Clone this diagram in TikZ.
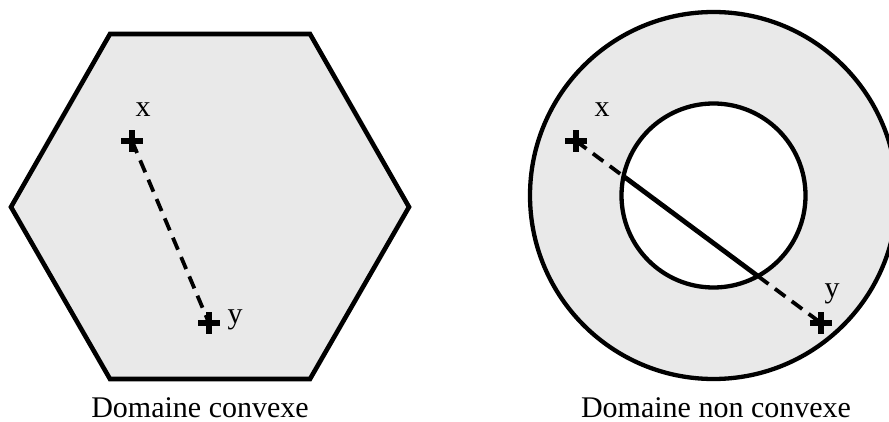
\documentclass[tikz,border=0pt]{standalone}
\usepackage{fontspec}
\setmainfont{Liberation Serif}
\usetikzlibrary{calc,shapes.misc}
\definecolor{domfill}{RGB}{233,233,233}
\tikzset{
  outline/.style={line width=4.6pt, line join=miter},
  crossmark/.style={cross out, draw=black, line width=6.5pt, rotate=45,
    minimum size=15.2pt, inner sep=0pt, outer sep=0pt},
  seg/.style={line width=3.8pt, dash pattern=on 13pt off 8pt},
  chord/.style={line width=4.8pt},
  ring/.style={line width=4.3pt},
  lbl/.style={font=\fontsize{30}{36}\selectfont, inner sep=0pt, anchor=base},
}
\begin{document}
\begin{tikzpicture}[x=1pt,y=-1pt]
\useasboundingbox (0,0) rectangle (889,422);
\clip (0,0) rectangle (889,422);
% convex domain
\draw[outline, fill=domfill] (110,34) -- (310,34) -- (409,207) -- (310,379) -- (110,379) -- (11,207) -- cycle;
\node[crossmark] (xl) at (132,141) {};
\node[crossmark] (yl) at (209,323) {};
\draw[seg] (xl.center) -- (yl.center);
\node[crossmark] at (xl.center) {};
\node[crossmark] at (yl.center) {};
\node[lbl] (lxl) at (143,117) {x};
\node[lbl] (lyl) at (235,323) {y};
\node[lbl] (capl) at (200,417) {Domaine convexe};
% non-convex domain
\coordinate (c) at (713.5,195.5);
\fill[domfill, even odd rule] (c) circle[radius=183.5pt] (c) circle[radius=92pt];
\draw[ring] (c) circle[radius=183.5pt];
\draw[ring] (c) circle[radius=92pt];
\node[crossmark] (xr) at (576,141) {};
\node[crossmark] (yr) at (821,323) {};
\coordinate (p1) at ($(xr.center)!0.199!(yr.center)$);
\coordinate (p2) at ($(xr.center)!0.743!(yr.center)$);
\draw[seg] (xr.center) -- (p1);
\draw[chord] (p1) -- (p2);
\draw[seg] (p2) -- (yr.center);
\node[crossmark] at (xr.center) {};
\node[crossmark] at (yr.center) {};
\node[lbl] (lxr) at (602,117) {x};
\node[lbl] (lyr) at (832,298) {y};
\node[lbl] (capr) at (716,417) {Domaine non convexe};
\end{tikzpicture}
\end{document}
